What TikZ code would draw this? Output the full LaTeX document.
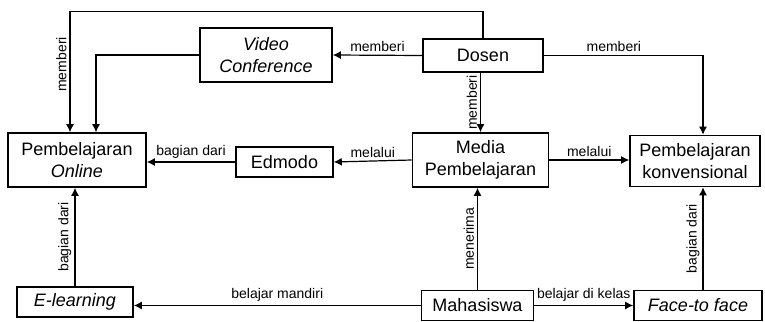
\documentclass[tikz,border=0pt]{standalone}
\usepackage{fontspec}
\setmainfont{Liberation Sans}
\usetikzlibrary{arrows.meta}

\begin{document}
\begin{tikzpicture}[x=0.5pt,y=-0.5pt,
	box/.style={draw, line width=0.8pt, inner sep=0pt, align=center, font=\fontsize{9}{11}\selectfont},
	arr/.style={line width=0.6pt, -{Latex[length=4pt,width=4pt]}},
	lbl/.style={font=\fontsize{7}{8}\selectfont, inner sep=1.5pt},
	vlbl/.style={lbl, rotate=90, anchor=south}]
	\useasboundingbox (0,0) rectangle (765,321);

	\node[box, minimum width=66pt, minimum height=27pt] (vc) at (266,55) {\itshape Video\\\itshape Conference};
	\node[box, minimum width=60pt, minimum height=16.5pt] (dosen) at (483,55.5) {Dosen};
	\node[box, minimum width=69pt, minimum height=27pt] (online) at (77,160) {Pembelajaran\\\itshape Online};
	\node[box, minimum width=48.5pt, minimum height=15pt] (edmodo) at (284.5,162) {Edmodo};
	\node[box, minimum width=68pt, minimum height=27pt] (media) at (480.5,160) {Media\\Pembelajaran};
	\node[box, minimum width=65pt, minimum height=25.5pt] (konv) at (695,161) {Pembelajaran\\konvensional};
	\node[box, minimum width=58pt, minimum height=15pt] (elearn) at (75,302) {\itshape E-learning};
	\node[box, minimum width=56pt, minimum height=15pt] (mhs) at (477.5,305.5) {Mahasiswa};
	\node[box, minimum width=64pt, minimum height=15pt] (f2f) at (698,305.5) {\itshape Face-to face};

	%\draw (dosen) -- (online);
	\draw[arr] (dosen.north) -- ++(0,-27) -| ([xshift=-3.5pt]online.north) node[vlbl, pos=0.72] {memberi};
	\draw[arr] (vc.west) -| ([xshift=9.5pt]online.north);
	\draw[arr] (dosen.west) -- (vc.east) node[lbl, midway, above] {memberi};
	\draw[arr] (dosen.east) -| ([xshift=4pt]konv.north) node[lbl, pos=0.22, above] {memberi};
	\draw[arr] (dosen.south -| media.north) -- (media.north) node[vlbl, midway] {memberi};

	\draw[arr] (media.west) -- (edmodo.east) node[lbl, midway, above] {melalui};
	\draw[arr] (edmodo.west) -- (edmodo.west -| online.east) node[lbl, midway, above] {bagian dari};
	\draw[arr] (media.east) -- (media.east -| konv.west) node[lbl, midway, above] {melalui};

	\draw[arr] (elearn.north) -- (elearn.north |- online.south) node[vlbl, midway] {bagian dari};
	\draw[arr] (mhs.north) -- (mhs.north |- media.south) node[vlbl, midway] {menerima};
	\draw[arr] ([xshift=2.5pt]f2f.north) -- ([xshift=2.5pt]f2f.north |- konv.south) node[vlbl, midway] {bagian dari};

	\draw[arr] (mhs.west) -- (mhs.west -| elearn.east) node[lbl, midway, above] {belajar mandiri};
	\draw[arr] (mhs.east) -- (mhs.east -| f2f.west) node[lbl, midway, above] {belajar di kelas};
\end{tikzpicture}
\end{document}
